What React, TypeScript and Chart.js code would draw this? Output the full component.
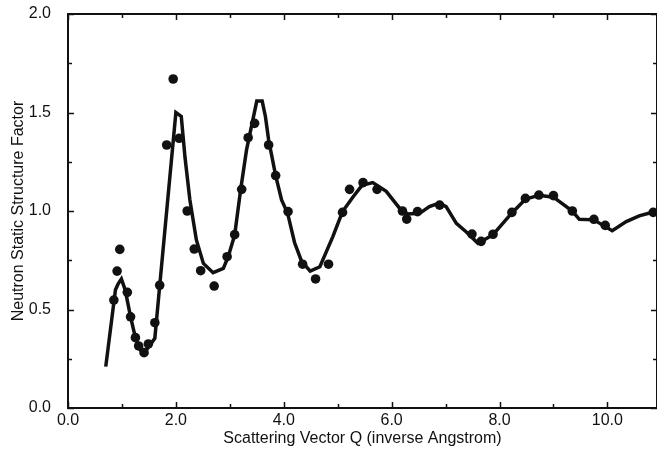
import React, { useEffect, useRef } from "react";
import { Chart, registerables } from "chart.js";

Chart.register(...registerables);

// Model curve (solid line)
const curveQ = [0.70, 0.88, 0.93, 0.99, 1.06, 1.16, 1.25, 1.33, 1.39, 1.47, 1.61, 1.70, 2.00, 2.10, 2.17, 2.26, 2.38, 2.51, 2.69, 2.88, 2.97, 3.09, 3.20, 3.31, 3.50, 3.60, 3.66, 3.72, 3.85, 3.96, 4.07, 4.20, 4.33, 4.49, 4.67, 4.91, 5.09, 5.28, 5.45, 5.65, 5.90, 6.15, 6.30, 6.52, 6.70, 6.88, 7.01, 7.20, 7.38, 7.60, 7.68, 7.88, 8.23, 8.48, 8.73, 9.00, 9.35, 9.48, 9.75, 10.09, 10.35, 10.59, 10.85, 10.93];
const curveS = [0.21, 0.60, 0.63, 0.655, 0.60, 0.463, 0.357, 0.30, 0.277, 0.30, 0.354, 0.62, 1.50, 1.48, 1.27, 1.056, 0.853, 0.734, 0.687, 0.709, 0.768, 0.878, 1.107, 1.31, 1.558, 1.558, 1.48, 1.36, 1.18, 1.056, 0.99, 0.84, 0.745, 0.695, 0.717, 0.87, 0.997, 1.07, 1.13, 1.144, 1.10, 1.013, 0.985, 0.988, 1.022, 1.04, 1.022, 0.937, 0.895, 0.836, 0.848, 0.88, 0.99, 1.06, 1.08, 1.07, 1.0, 0.958, 0.955, 0.90, 0.946, 0.975, 0.995, 1.0];

// Measured points (dots)
const pointQ = [0.85, 0.91, 0.96, 1.10, 1.16, 1.25, 1.31, 1.41, 1.49, 1.61, 1.70, 1.83, 1.95, 2.06, 2.21, 2.34, 2.46, 2.71, 2.95, 3.09, 3.22, 3.34, 3.46, 3.72, 3.85, 4.08, 4.35, 4.59, 4.83, 5.09, 5.22, 5.47, 5.73, 6.20, 6.28, 6.48, 6.89, 7.49, 7.66, 7.88, 8.23, 8.48, 8.73, 9.00, 9.35, 9.75, 9.96, 10.85];
const pointS = [0.548, 0.695, 0.805, 0.587, 0.463, 0.357, 0.315, 0.281, 0.325, 0.433, 0.623, 1.335, 1.67, 1.369, 1.0, 0.807, 0.697, 0.619, 0.768, 0.88, 1.11, 1.372, 1.445, 1.335, 1.18, 0.997, 0.73, 0.655, 0.73, 0.993, 1.11, 1.144, 1.11, 1.0, 0.959, 0.997, 1.03, 0.883, 0.846, 0.882, 0.993, 1.064, 1.081, 1.078, 1.0, 0.958, 0.927, 0.993];

const xTicks = [0, 2, 4, 6, 8, 10];
const xMinorTicks = [1, 3, 5, 7, 9];
const yTicks = [0, 0.5, 1.0, 1.5, 2.0];
const yMinorTicks = [0.25, 0.75, 1.25, 1.75];

const xTitle = "Scattering Vector Q (inverse Angstrom)";
const yTitle = "Neutron Static Structure Factor";

const FONT = "'Liberation Sans', Arial, sans-serif";
const INK = "#111";

const framePlugin = {
  id: "frame",
  afterDatasetsDraw(chart: any) {
    const { ctx, chartArea, scales } = chart;
    const { left, right, top, bottom } = chartArea;
    const xs = scales.x;
    const ys = scales.y;
    ctx.save();
    ctx.strokeStyle = INK;
    ctx.lineWidth = 2;
    ctx.strokeRect(left, top, right - left, bottom - top);
    ctx.lineWidth = 1.5;
    const drawX = (vals: number[], len: number) => {
      vals.forEach((v) => {
        const px = Math.round(xs.getPixelForValue(v)) + 0.5;
        ctx.beginPath();
        ctx.moveTo(px, bottom);
        ctx.lineTo(px, bottom - len);
        ctx.moveTo(px, top);
        ctx.lineTo(px, top + len);
        ctx.stroke();
      });
    };
    const drawY = (vals: number[], len: number) => {
      vals.forEach((v) => {
        const py = Math.round(ys.getPixelForValue(v)) + 0.5;
        ctx.beginPath();
        ctx.moveTo(left, py);
        ctx.lineTo(left + len, py);
        ctx.moveTo(right, py);
        ctx.lineTo(right - len, py);
        ctx.stroke();
      });
    };
    drawX(xTicks, 6);
    drawX(xMinorTicks, 4);
    drawY(yTicks, 6);
    drawY(yMinorTicks, 4);
    ctx.restore();
  },
};

export default function App() {
  const ref = useRef<HTMLCanvasElement | null>(null);

  useEffect(() => {
    document.body.style.margin = "0";
    const canvas = ref.current;
    if (!canvas) return;
    const chart = new Chart(canvas, {
      type: "scatter",
      data: {
        datasets: [
          {
            label: "Model",
            data: curveQ.map((q, i) => ({ x: q, y: curveS[i] })),
            showLine: true,
            borderColor: INK,
            borderWidth: 3.5,
            pointRadius: 0,
            tension: 0,
            fill: false,
            order: 2,
          },
          {
            label: "Data",
            data: pointQ.map((q, i) => ({ x: q, y: pointS[i] })),
            showLine: false,
            pointRadius: 4.8,
            pointBackgroundColor: INK,
            pointBorderColor: INK,
            pointBorderWidth: 0,
            order: 1,
          },
        ],
      },
      options: {
        animation: false,
        responsive: false,
        maintainAspectRatio: false,
        layout: { autoPadding: false, padding: { top: 14, right: 0, left: 0, bottom: 0 } },
        plugins: {
          legend: { display: false },
          tooltip: { enabled: false },
        },
        scales: {
          x: {
            type: "linear",
            min: 0,
            max: 10.92,
            grid: { display: false, drawTicks: false },
            border: { display: false },
            afterBuildTicks: (scale: any) => {
              scale.ticks = xTicks.map((v) => ({ value: v }));
            },
            afterFit: (scale: any) => {
              scale.height = 45;
              scale.paddingLeft = 0;
              scale.paddingRight = 0;
            },
            ticks: {
              padding: 3,
              color: INK,
              font: { family: FONT, size: 16 },
              maxRotation: 0,
              autoSkip: false,
              callback: (v: any) => Number(v).toFixed(1),
            },
            title: {
              display: true,
              text: xTitle,
              color: INK,
              font: { family: FONT, size: 16 },
              padding: { top: 0, bottom: 5 },
            },
          },
          y: {
            type: "linear",
            min: 0,
            max: 2.0,
            grid: { display: false, drawTicks: false },
            border: { display: false },
            afterBuildTicks: (scale: any) => {
              scale.ticks = yTicks.map((v) => ({ value: v }));
            },
            afterFit: (scale: any) => {
              scale.width = 68;
              scale.paddingTop = 0;
              scale.paddingBottom = 0;
            },
            ticks: {
              padding: 17,
              color: INK,
              font: { family: FONT, size: 16 },
              autoSkip: false,
              callback: (v: any) => Number(v).toFixed(1),
            },
            title: {
              display: true,
              text: yTitle,
              color: INK,
              font: { family: FONT, size: 16 },
              padding: { top: 9, bottom: 0 },
            },
          },
        },
      },
      plugins: [framePlugin],
    });
    return () => chart.destroy();
  }, []);

  return (
    <div style={{ width: 657, height: 453, background: "#fff" }}>
      <canvas ref={ref} width={657} height={453} style={{ display: "block" }} />
    </div>
  );
}
